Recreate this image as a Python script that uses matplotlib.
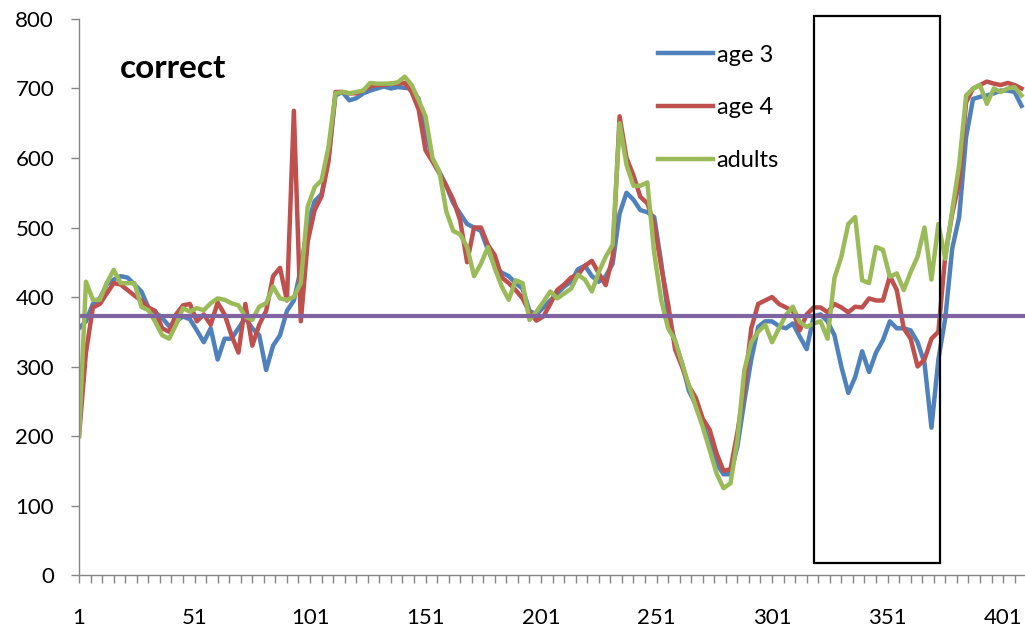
import matplotlib
matplotlib.use("Agg")
import matplotlib.pyplot as plt
from matplotlib.patches import Rectangle

# sample positions (every 3rd frame)
frames = list(range(1, 410, 3))

age3 = [355, 365, 390, 398, 418, 425, 430, 428, 418, 408,
        385, 378, 370, 358, 365, 372, 368, 352, 335, 355,
        310, 340, 340, 355, 370, 355, 345, 295, 330, 345,
        380, 395, 440, 505, 538, 548, 600, 690, 695, 683,
        686, 693, 697, 700, 703, 700, 702, 701, 700, 685,
        640, 597, 580, 560, 535, 520, 505, 500, 495, 468,
        445, 435, 430, 420, 412, 380, 375, 385, 395, 405,
        415, 422, 440, 445, 430, 422, 430, 448, 520, 550,
        540, 525, 522, 515, 450, 375, 335, 305, 265, 245,
        218, 190, 160, 145, 145, 185, 250, 310, 357, 365,
        365, 358, 355, 362, 343, 325, 372, 375, 365, 345,
        300, 262, 285, 322, 292, 320, 338, 365, 355, 355,
        352, 335, 305, 212, 310, 370, 470, 515, 630, 685,
        688, 690, 693, 697, 697, 695, 675]

age4 = [200, 320, 385, 390, 405, 420, 418, 410, 402, 395,
        385, 380, 355, 350, 375, 388, 390, 365, 375, 360,
        392, 375, 345, 320, 390, 330, 360, 380, 430, 442,
        395, 668, 365, 480, 525, 545, 595, 695, 695, 693,
        693, 697, 703, 705, 705, 707, 707, 708, 695, 670,
        611, 595, 578, 560, 540, 510, 450, 500, 500, 475,
        460, 428, 420, 410, 398, 378, 366, 372, 390, 410,
        418, 428, 432, 445, 452, 434, 417, 458, 660, 600,
        575, 544, 535, 505, 444, 390, 325, 300, 272, 255,
        225, 209, 175, 150, 152, 205, 270, 355, 390, 395,
        400, 390, 385, 380, 352, 375, 385, 385, 378, 390,
        385, 378, 386, 385, 398, 395, 395, 430, 410, 355,
        340, 300, 310, 340, 350, 460, 520, 565, 680, 700,
        705, 710, 707, 705, 708, 705, 700]

adults = [200, 422, 396, 396, 420, 439, 420, 420, 420, 386,
          381, 364, 345, 340, 360, 384, 379, 384, 381, 391,
          398, 396, 391, 388, 372, 367, 386, 391, 415, 398,
          396, 400, 420, 530, 558, 568, 616, 693, 695, 693,
          695, 697, 708, 707, 707, 707, 709, 717, 705, 683,
          660, 600, 580, 523, 495, 490, 472, 430, 448, 472,
          441, 415, 396, 424, 420, 367, 379, 393, 408, 398,
          405, 412, 432, 425, 408, 436, 458, 475, 650, 590,
          560, 560, 565, 463, 396, 355, 338, 305, 273, 242,
          213, 180, 146, 125, 132, 194, 295, 335, 350, 360,
          335, 355, 374, 386, 364, 357, 362, 365, 340, 427,
          458, 505, 515, 424, 420, 472, 468, 429, 434, 410,
          436, 458, 500, 425, 505, 455, 525, 590, 690, 700,
          705, 678, 700, 695, 700, 702, 690]

threshold = 372
box_frames = (319.2, 373.7)
box_values = (17, 804)

plt.rcParams["font.family"] = ["Lato", "DejaVu Sans"]

fig = plt.figure(figsize=(10.25, 6.31), dpi=100)
ax = fig.add_axes([0.0771, 0.0887, 0.9229, 0.8812])

ax.plot(frames, age3, color="#4F81BD", lw=3.2, label="age 3")
ax.plot(frames, age4, color="#C0504D", lw=3.2, label="age 4")
ax.plot(frames, adults, color="#9BBB59", lw=3.2, label="adults")
ax.axhline(threshold, color="#8064A2", lw=3.0)

# the highlighted window
ax.add_patch(Rectangle((box_frames[0], box_values[0]),
                       box_frames[1] - box_frames[0],
                       box_values[1] - box_values[0],
                       fill=False, ec="black", lw=1.6, clip_on=False, zorder=5))

ax.set_xlim(1, 410.5)
ax.set_ylim(0, 800)
ax.set_yticks(range(0, 801, 100))
ticks = list(range(1, 411, 5))
ax.set_xticks(ticks)
ax.set_xticklabels([str(t) if (t - 1) % 50 == 0 else "" for t in ticks])

for s in ["top", "right"]:
    ax.spines[s].set_visible(False)
for s in ["left", "bottom"]:
    ax.spines[s].set_color("#868686")
    ax.spines[s].set_linewidth(1.0)
ax.tick_params(axis="both", direction="out", length=6, width=1.0,
               color="#868686", labelsize=16, labelcolor="black")
ax.tick_params(axis="x", pad=18)
ax.tick_params(axis="y", pad=12)

ax.text(18.5, 729, "correct", fontsize=24, fontweight="bold", va="center")

ax.legend(loc="upper left", bbox_to_anchor=(0.630, 0.948),
          bbox_transform=fig.transFigure, frameon=False, fontsize=17,
          handlelength=2.35, handletextpad=0.15, labelspacing=1.35,
          borderpad=0)

fig.savefig("out.png", dpi=100)
